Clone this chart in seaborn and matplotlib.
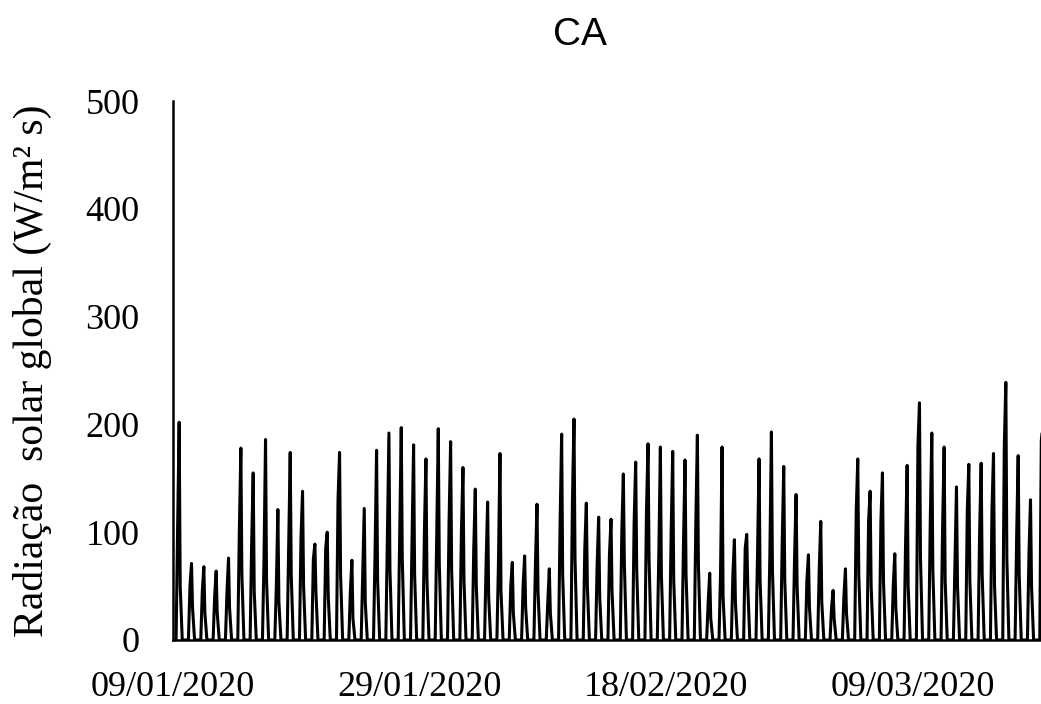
# Radiação solar global - estação CA (janeiro a março de 2020)
import pandas as pd
import matplotlib
matplotlib.use("Agg")
import matplotlib.pyplot as plt
import matplotlib.dates as mdates
import seaborn as sns

INICIO = "2020-01-09"

# pico diário (por volta do meio-dia)
pico = [202, 71, 68, 64, 76, 178, 155, 186, 121, 174,
        138, 89, 100, 174, 74, 122, 176, 192, 197, 181,
        168, 196, 184, 160, 140, 128, 173, 72, 78, 126,
        66, 191, 205, 127, 114, 112, 154, 165, 182, 179,
        175, 167, 190, 62, 179, 93, 98, 168, 193, 161,
        135, 79, 110, 46, 66, 168, 138, 155, 80, 162,
        220, 192, 179, 142, 163, 164, 173, 239, 171, 130,
        200]

# valores de meio da manhã e meio da tarde (corpo escuro de cada dia)
manha = [105, 50, 45, 40, 45, 100, 90, 75, 50, 85,
         95, 75, 85, 130, 45, 60, 80, 95, 100, 95,
         100, 95, 110, 100, 85, 70, 70, 50, 50, 70,
         35, 110, 130, 85, 70, 80, 100, 110, 120, 80,
         100, 90, 110, 35, 60, 60, 85, 80, 80, 90,
         75, 55, 65, 30, 40, 120, 110, 110, 50, 90,
         180, 110, 105, 70, 120, 100, 120, 180, 95, 80,
         185]

tarde = [50, 30, 25, 25, 30, 60, 45, 55, 35, 60,
         50, 45, 40, 60, 20, 35, 55, 65, 75, 60,
         55, 70, 65, 55, 50, 40, 45, 25, 30, 45,
         25, 60, 75, 50, 40, 45, 70, 65, 75, 60,
         55, 60, 70, 20, 40, 35, 50, 55, 65, 55,
         50, 30, 35, 20, 25, 60, 50, 55, 30, 50,
         75, 65, 55, 50, 55, 60, 50, 75, 60, 50,
         60]

datas_ticks = ["2020-01-09", "2020-01-29", "2020-02-18", "2020-03-09"]

# monta a série horária (noite = 0)
linhas = []
inicio = pd.Timestamp(INICIO)
for i in range(len(pico)):
    dia = inicio + pd.Timedelta(days=i)
    for hora, valor in [(6, 0), (9, manha[i]), (12, pico[i]), (14, tarde[i]), (18, 0)]:
        linhas.append((dia + pd.Timedelta(hours=hora), valor))
df = pd.DataFrame(linhas, columns=["data", "radiacao"])

sns.set_style("white")
plt.rcParams["font.family"] = ["Liberation Serif", "DejaVu Serif"]
plt.rcParams["text.color"] = "black"
plt.rcParams["xtick.color"] = "black"
plt.rcParams["ytick.color"] = "black"
plt.rcParams["axes.labelcolor"] = "black"

fig = plt.figure(figsize=(10.41, 7.04), dpi=100)
ax = fig.add_axes([173 / 1041, 1 - 640 / 704, 1 - 173 / 1041, (640 - 101) / 704])

sns.lineplot(data=df, x="data", y="radiacao", color="black", linewidth=2.2, ax=ax)

ax.set_ylim(0, 500)
ax.set_yticks([0, 100, 200, 300, 400, 500])
ax.set_xlim(inicio, inicio + pd.Timedelta(days=70.35))
ax.set_xticks([pd.Timestamp(d) for d in datas_ticks])
ax.xaxis.set_major_formatter(mdates.DateFormatter("%d/%m/%Y"))

ax.tick_params(axis="both", length=0, labelsize=26)
ax.tick_params(axis="y", pad=24)
ax.tick_params(axis="x", pad=22)
ax.set_xlabel("")
ax.set_ylabel("Radiação  solar global (W/m² s)", fontsize=30, labelpad=24)

for lado in ["top", "right"]:
    ax.spines[lado].set_visible(False)
for lado in ["left", "bottom"]:
    ax.spines[lado].set_color("black")
    ax.spines[lado].set_linewidth(1.8)

fig.text(580 / 1041, 1 - 35 / 704, "CA", ha="center", va="center",
         fontsize=28, family=["Liberation Sans", "DejaVu Sans"])

fig.savefig("out.png", dpi=100)
plt.close()
